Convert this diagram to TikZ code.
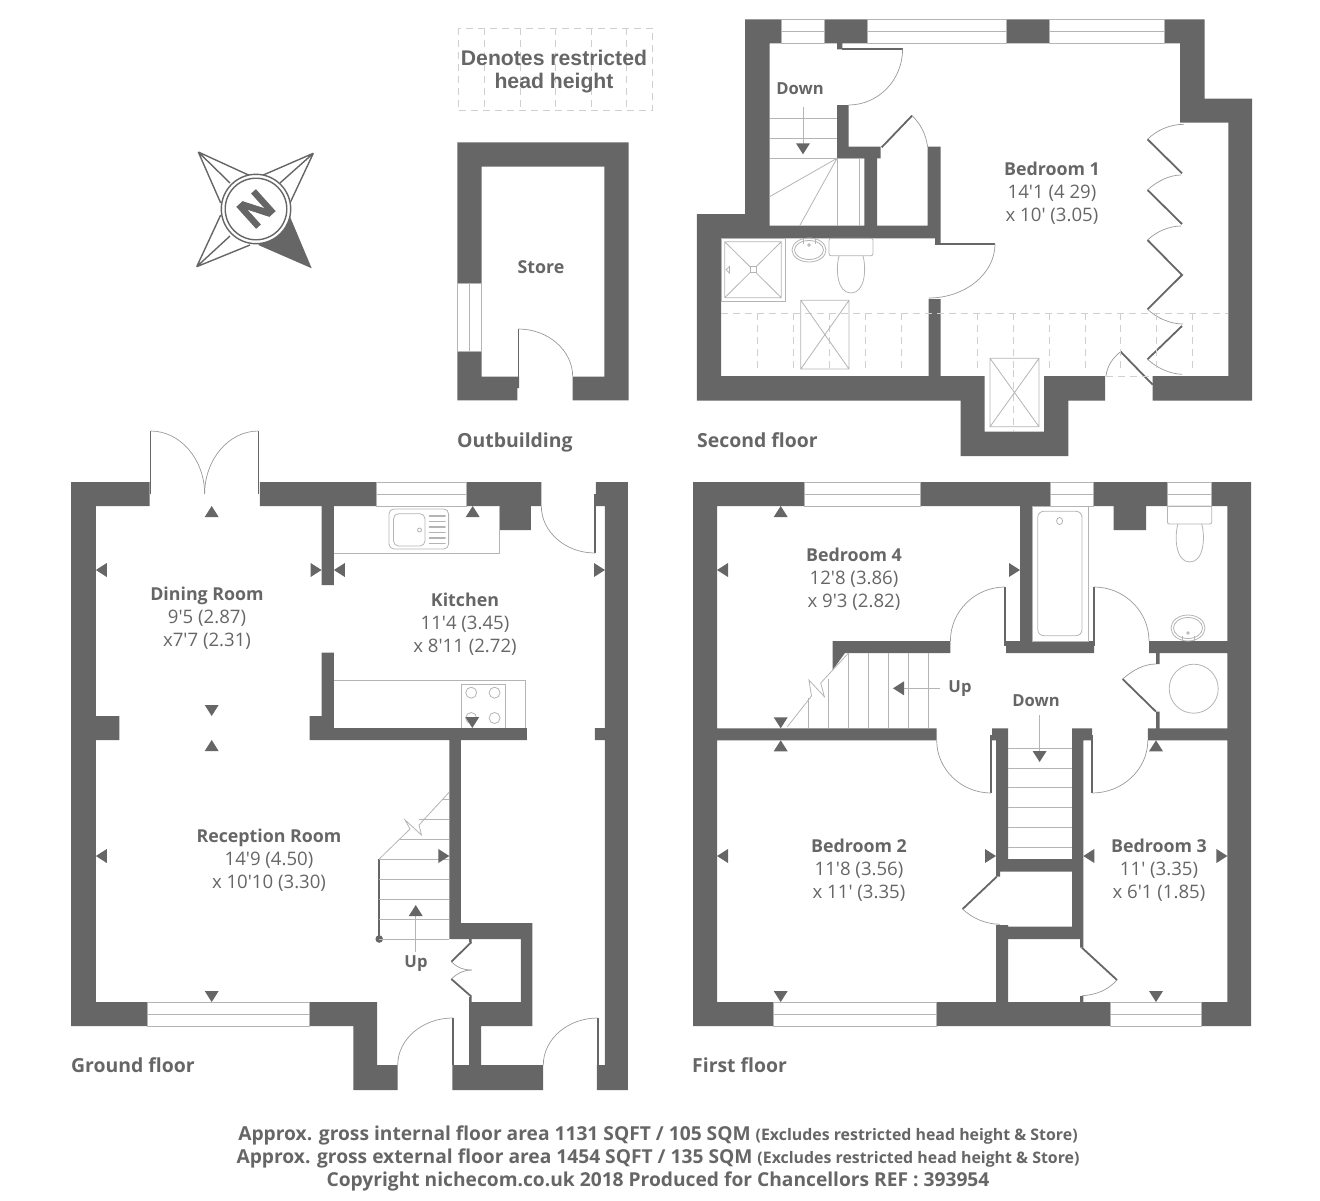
\documentclass[tikz,border=0pt]{standalone}
\usepackage{fontspec}
\newfontfamily\planfont{Open Sans}
\newfontfamily\northfont[BoldFeatures={FakeBold=2.5}]{Open Sans}
\newfontfamily\legendfont{Liberation Sans}
\definecolor{wallgrey}{HTML}{666666}
\definecolor{linegrey}{HTML}{B4B4B4}
\definecolor{swinggrey}{HTML}{999999}
\definecolor{dashgrey}{HTML}{CFCFCF}
\tikzset{
    wall/.style={fill=wallgrey},
    leaf/.style={draw=wallgrey,line width=1.8pt},
    swing/.style={draw=swinggrey,line width=0.7pt},
    fixture/.style={draw=linegrey,line width=0.8pt},
    tread/.style={draw=linegrey,line width=0.8pt},
    headline/.style={draw=dashgrey,line width=0.9pt,dash pattern=on 7pt off 5pt},
    roomlabel/.style={text=wallgrey,align=center,inner sep=0pt,font=\planfont\fontsize{18.6}{23}\selectfont},
    floorlabel/.style={text=wallgrey,anchor=base west,inner sep=0pt,font=\planfont\bfseries\fontsize{19.4}{22}\selectfont},
    steplabel/.style={text=wallgrey,inner sep=0pt,font=\planfont\bfseries\fontsize{16.6}{18}\selectfont},
    footlabel/.style={text=wallgrey,inner sep=0pt,font=\planfont\bfseries\fontsize{19.2}{22}\selectfont},
}
\newcommand{\roomname}[1]{{\bfseries\fontsize{17.8}{23}\selectfont #1}}
\newcommand{\footnotepart}[1]{{\fontsize{15.9}{22}\selectfont #1}}
\newcommand{\tipup}[2]{\fill[wall] (#1,#2) -- ({#1+7},{#2+11}) -- ({#1-7},{#2+11}) -- cycle;}
\newcommand{\tipdown}[2]{\fill[wall] (#1,#2) -- ({#1+7},{#2-11}) -- ({#1-7},{#2-11}) -- cycle;}
\newcommand{\tipleft}[2]{\fill[wall] (#1,#2) -- ({#1+11},{#2+7}) -- ({#1+11},{#2-7}) -- cycle;}
\newcommand{\tipright}[2]{\fill[wall] (#1,#2) -- ({#1-11},{#2+7}) -- ({#1-11},{#2-7}) -- cycle;}
\newcommand{\swingarc}[4]{\draw[swing] (#1,#2) .. controls ({#1+0.55*(#3-#1)},#2) and (#3,{#2+0.45*(#4-#2)}) .. (#3,#4);}
\newcommand{\winh}[4]{\draw[fixture] (#1,#3) rectangle (#2,#4) (#1,{(#3+#4)/2}) -- (#2,{(#3+#4)/2});}
\newcommand{\bowl}[4]{\draw[fixture] ({#1-0.85*#3},#2) .. controls ({#1-1.12*#3},{#2+0.35*(#4-#2)}) and ({#1-#3},#4) .. (#1,#4) .. controls ({#1+#3},#4) and ({#1+1.12*#3},{#2+0.35*(#4-#2)}) .. ({#1+0.85*#3},#2);}
\begin{document}
\begin{tikzpicture}[x=1pt,y=-1pt]
    \useasboundingbox (0,0) rectangle (1320,1200);

    \begin{scope}[xshift=0.405pt,xscale=0.9943]
    \fill[wall] (71,482) rectangle (150,506) (71,482) rectangle (96,1026) (71,1002) rectangle (148,1026)
        (311,1002) rectangle (379,1026) (355,1002) rectangle (379,1090) (355,1065) rectangle (399.6,1090)
        (261,482) rectangle (378,506) (469,482) rectangle (544,506) (501.5,506) rectangle (533.5,530)
        (608,482) rectangle (631,1090) (599,482) rectangle (608,494) (598,494) rectangle (608,506) (598,728) rectangle (608,740)
        (600,1065) rectangle (608,1090) (96,716) rectangle (119.6,740)
        (323,506) rectangle (335.4,585) (323,652.7) rectangle (335.4,728) (311,716) rectangle (335.4,740)
        (311,728) rectangle (529.6,740) (451.5,740) rectangle (463,938) (451.5,923) rectangle (535,939)
        (523.5,923) rectangle (535,1026) (471.5,1002) rectangle (535,1026) (471.5,1002) rectangle (483.5,1065)
        (454.6,1065) rectangle (545.8,1090) (471.5,939) rectangle (474,942) (471.5,997) rectangle (474,1002);
    \winh{378}{469}{482}{506}
    \winh{148}{311}{1002}{1026}
    \draw[leaf] (151,431) -- (151,494);
    \draw[leaf] (259.5,431) -- (259.5,494);
    \swingarc{151}{431}{205.4}{494}
    \swingarc{259.5}{431}{205.4}{494}
    \draw[leaf] (598,494) -- (598,553);
    \swingarc{598}{553}{544}{506}
    \draw[leaf] (455,1018) -- (455,1065);
    \swingarc{455}{1018}{399.6}{1065}
    \draw[leaf] (600.7,1018) -- (600.7,1077);
    \swingarc{600.7}{1018}{546}{1065}
    \draw[leaf] (473.8,942) -- (453.5,961.7);
    \draw[leaf] (453.5,979) -- (473.8,996.7);
    \draw[swing] (453.5,961.7) .. controls (460,968) and (466,970) .. (474,970);
    \draw[swing] (453.5,979) .. controls (460,973) and (466,970) .. (474,970);

    \draw[fixture] (335.4,553) -- (501.5,553) -- (501.5,506);
    \draw[fixture,rounded corners=5pt] (390.8,509) rectangle (450.8,549);
    \draw[fixture,rounded corners=5pt] (395.4,513.7) rectangle (427,546);
    \draw[fixture] (421.5,530) circle [radius=2pt];
    \foreach \slat in {516,521.5,527,532.3,538,543.3}
        \draw[fixture,line width=1.6pt,line cap=round] (431.5,\slat) -- (447.2,\slat);
    \draw[fixture] (335.4,680.7) -- (527.7,680.7) -- (527.7,728);
    \draw[fixture] (463.5,728) |- (508,684.3) -- (508,728);
    \foreach \hobx in {473.5,497}
        \foreach \hoby in {692.7,718}
            \draw[fixture] (\hobx,\hoby) circle [radius=5.5pt];

    \draw[wallgrey,line width=2pt] (381,859) -- (381,939);
    \fill[wall] (381,939) circle [radius=3.8pt];
    \foreach \stepy in {859,879,899,919,939}
        \draw[tread] (381,\stepy) -- (451.5,\stepy);
    \draw[tread] (402,839) -- (451.5,839) (421,819) -- (451.5,819) (444,799) -- (451.5,799);
    \draw[tread] (381,859) -- (412,829) -- (407,820) -- (423.5,835) -- (421,825) -- (451.5,792);
    \draw[tread] (417.7,952) -- (417.7,912);
    \tipup{417.7}{905}

    \tipup{212.5}{506}
    \tipup{475}{506}
    \tipleft{96}{570}
    \tipright{323}{570}
    \tipleft{335.4}{570}
    \tipright{608}{570}
    \tipdown{212.5}{716}
    \tipdown{474.6}{728}
    \tipup{212.5}{740}
    \tipleft{96}{856}
    \tipright{451.5}{856}
    \tipdown{212.5}{1002}
    \end{scope}
    \node[steplabel] (upground) at (416,963.5) {Up};

    \fill[wall] (693,482) rectangle (804.8,506) (693,482) rectangle (717,1026) (693,1002) rectangle (773,1026)
        (920.4,482) rectangle (1050,506) (1093.7,482) rectangle (1167.4,506) (1211.8,482) rectangle (1251,506)
        (1227.4,482) rectangle (1251,1026) (1113.7,506) rectangle (1146,530)
        (1020,506) rectangle (1032,653) (1006,641) rectangle (1094,653)
        (832.6,641) rectangle (950.4,653) (832.6,653) -- (845,653) -- (832.6,670) -- cycle
        (1149,641) rectangle (1227.4,653) (1156,653) rectangle (1159.6,664) (1156,711.7) rectangle (1159.6,728)
        (717,728.3) rectangle (936.7,740.3) (1147.8,728.3) rectangle (1227.4,740.3)
        (992,728.3) rectangle (1008,740.3) (1072,728.3) rectangle (1092,740.3)
        (996,728.3) rectangle (1008,859) (1072,728.3) rectangle (1083.3,939) (996,859) rectangle (1083.3,871.7)
        (996,871.7) rectangle (1000,876.7) (996,925) rectangle (1008,1002) (996,926.7) rectangle (1083.3,939)
        (1080,939) rectangle (1083.3,947.7) (1080,996) rectangle (1083.3,1002)
        (936,1002) rectangle (1110,1026) (1201,1002) rectangle (1251,1026);
    \winh{804.8}{920.4}{482}{506}
    \winh{1050}{1093.7}{482}{506}
    \winh{1167.4}{1211.8}{482}{506}
    \winh{773}{936}{1002}{1026}
    \winh{1110}{1201}{1002}{1026}
    \draw[leaf] (1005,587) -- (1005,646);
    \draw[leaf] (1094,587) -- (1094,646);
    \swingarc{1005}{587}{950.4}{641}
    \swingarc{1094}{587}{1149}{641}
    \draw[leaf] (991.2,735) -- (991.2,793);
    \draw[leaf] (1092,735) -- (1092,793);
    \swingarc{991.2}{793}{936.7}{740.3}
    \swingarc{1092}{793}{1147.8}{740.3}
    \draw[leaf] (1122.6,679) -- (1156,711.7);
    \draw[swing] (1122.6,679) .. controls (1133,670) and (1144,664) .. (1156,664);
    \draw[leaf] (962.6,909) -- (996.7,876.7);
    \draw[swing] (962.6,909) .. controls (972,918) and (985,924) .. (1000,924.3);
    \draw[leaf] (1081.9,947.7) -- (1117,980);
    \draw[swing] (1117,980) .. controls (1108,990) and (1096,995) .. (1082,995.7);

    \draw[fixture] (1032,506) rectangle (1088,641);
    \draw[fixture,rounded corners=6pt] (1037.8,511.3) rectangle (1082,635.7);
    \draw[fixture] (1059.6,521) ellipse [x radius=3pt,y radius=3.5pt];
    \draw[fixture,rounded corners=2pt] (1167.4,506) rectangle (1211.8,524);
    \bowl{1189.8}{524}{14}{562}
    \draw[fixture] (1188,628) ellipse [x radius=17pt,y radius=13pt];
    \draw[fixture] (1188,628) ellipse [x radius=14.5pt,y radius=10.5pt];
    \draw[fixture] (1182,641) -- (1182,636) (1194,641) -- (1194,636);
    \draw[fixture] (1188,633) circle [radius=1.3pt];
    \draw[fixture] (1193.7,688.7) circle [radius=24.5pt];

    \foreach \stepy in {748.3,768,787.7,807.7,827.3,847.3}
        \draw[tread] (1008,\stepy) -- (1072,\stepy);
    \draw[tread] (1039.6,715) -- (1039.6,755);
    \tipdown{1039.6}{762}
    \node[steplabel] (downfirst) at (1036,700.5) {Down};
    \foreach \stepx in {848.5,868.5,888.5,908.5,928}
        \draw[tread] (\stepx,653) -- (\stepx,728.3);
    \draw[tread] (828.5,679) -- (828.5,728.3) (808.5,698) -- (808.5,728.3);
    \draw[tread] (787.4,726.7) -- (811.5,696) -- (808.9,680) -- (824.4,696.7) -- (820.7,683) -- (848.5,653);
    \draw[tread] (940.4,688.3) -- (900,688.3);
    \tipleft{893}{688.3}
    \node[steplabel] (upfirst) at (960,688.5) {Up};

    \tipup{780.7}{506}
    \tipleft{717}{570}
    \tipright{1020}{570}
    \tipdown{780.7}{728.3}
    \tipup{780.7}{740.3}
    \tipup{1156}{740.3}
    \tipleft{717}{856}
    \tipright{996}{856}
    \tipleft{1083.3}{856}
    \tipright{1227.4}{856}
    \tipdown{780.7}{1002}
    \tipdown{1156}{1002}

    \fill[wall] (745,19.3) rectangle (781,43.3) (745,19.3) rectangle (769.6,226) (824.7,19.3) rectangle (867,43.3)
        (1006.7,19.3) rectangle (1049,43.3) (1164,19.3) rectangle (1204.5,43.3) (1180,19.3) rectangle (1204.5,122.7)
        (1180,98.7) rectangle (1252,122.7) (1228.4,98.7) rectangle (1252,400.7)
        (696.8,214) rectangle (721,400.7) (696.8,214) rectangle (769.6,238.3) (721,225.7) rectangle (940.5,238.3)
        (927.6,146.7) rectangle (940.5,238.3) (935,238) rectangle (940.5,244) (864.4,146.7) rectangle (877,226)
        (837,146.7) rectangle (880.6,158.3) (837,105) rectangle (848.6,158.3) (837,43) rectangle (842.3,49.3)
        (928.7,299) rectangle (940.5,376) (696.8,376) rectangle (984.6,400.7)
        (960.7,376) rectangle (984.6,456) (960.7,431.7) rectangle (1068.4,456) (1044,376) rectangle (1068.4,456)
        (1044,376) rectangle (1105,400.7) (1152.7,376) rectangle (1252,400.7);
    \winh{781}{824.7}{19.3}{43.3}
    \winh{867}{1006.7}{19.3}{43.3}
    \winh{1049}{1164}{19.3}{43.3}
    \draw[leaf] (842,49.3) -- (902.6,49.3);
    \swingarc{848.6}{105}{902.6}{49.3}
    \draw[leaf] (881.7,147.3) -- (912,115.7);
    \draw[swing] (912,115.7) .. controls (921,124) and (926,135) .. (927.6,146.7);
    \draw[leaf] (935,244) -- (995,244);
    \swingarc{928.7}{298}{995}{244}
    \draw[leaf] (1147.5,139.3) -- (1182,173.3);
    \draw[swing] (1147.5,139.3) .. controls (1157,130) and (1170,124.3) .. (1184,124.3);
    \draw[leaf] (1147.5,190) -- (1182,224);
    \draw[swing] (1147.5,190) .. controls (1157,181) and (1170,175) .. (1181,175);
    \draw[leaf] (1147.5,240) -- (1182,275) -- (1147.5,309.3);
    \draw[swing] (1147.5,240) .. controls (1157,231) and (1170,226) .. (1181,226);
    \draw[swing] (1147.5,309.3) .. controls (1157,318) and (1170,324) .. (1183,324);
    \draw[leaf] (1182,326) -- (1147.5,359.3);
    \draw[swing] (1147.5,359.3) .. controls (1157,368) and (1170,374) .. (1182,374.3);
    \draw[leaf] (1120.7,351.7) -- (1152.7,384.7);
    \draw[swing] (1120.7,351.7) .. controls (1112,358) and (1107,367) .. (1106,376);
    \draw[headline] (1106,376) -- (1152.7,376);

    \foreach \stepy in {118.3,138.3,158.3}
        \draw[tread] (769.6,\stepy) -- (837,\stepy);
    \draw[tread] (837,158.3) -- (864.4,158.3) (837,158.3) -- (837,225.7) (859,158.3) -- (859,225.7);
    \draw[tread] (837,158.3) -- (769.6,196.7) (837,158.3) -- (799.7,225.7);
    \draw[tread] (803,106.7) -- (803,147);
    \tipdown{803}{154.3}
    \node[steplabel] (downsecond) at (800,88.5) {Down};

    \draw[headline] (721,313.3) -- (1228.4,313.3);
    \foreach \dashx in {757,793,829,865,901,977,1013,1049,1085,1120.7,1156.7,1192.7}
        \draw[headline] (\dashx,313.3) -- (\dashx,370);
    \draw[headline] (1013,370) -- (1013,431);
    \draw[fixture] (800.8,300.3) rectangle (849,369) (800.8,300.3) -- (849,369) (849,300.3) -- (800.8,369);
    \draw[fixture] (990,358.3) rectangle (1039,426.7) (990,358.3) -- (1039,426.7) (1039,358.3) -- (990,426.7);
    \draw[fixture] (721,238.3) rectangle (785,301.3);
    \draw[fixture] (724.7,241.7) rectangle (781.3,297.7) (724.7,241.7) -- (781.3,297.7) (781.3,241.7) -- (724.7,297.7);
    \fill[white] (750,266.7) rectangle (756,272.7);
    \draw[fixture] (750,266.7) rectangle (756,272.7);
    \draw[fixture] (726,269.7) -- (729.5,266.5) -- (729.5,273) -- cycle;
    \draw[fixture] (809,250) ellipse [x radius=17pt,y radius=12pt];
    \draw[fixture] (809,250) ellipse [x radius=14.5pt,y radius=9.5pt];
    \draw[fixture] (803,238.3) -- (803,243.5) (815,238.3) -- (815,243.5);
    \draw[fixture] (809,245) circle [radius=1.3pt];
    \draw[fixture,rounded corners=2pt] (829,238.3) rectangle (873,255.7);
    \bowl{851}{255.7}{14}{293}

    \draw[headline] (458,28) rectangle (652.7,110.7);
    \foreach \dashx in {484,520,555.7,591,626}
        \draw[headline] (\dashx,28) -- (\dashx,110.7);
    \node[text=wallgrey,align=center,inner sep=0pt,font=\legendfont\bfseries\fontsize{21.2}{23}\selectfont] (legendtext) at (554,71.5) {Denotes restricted\\head height};

    \fill[wall] (457.3,142.3) rectangle (628.7,166.7) (457.3,142.3) rectangle (481.7,283.3) (604.3,142.3) rectangle (628.7,400.3)
        (457.3,351) rectangle (481.7,400.3) (457.3,376.7) rectangle (517.3,400.3) (572.7,376.7) rectangle (628.7,400.3)
        (517,376.7) rectangle (519.2,388);
    \draw[fixture] (457.3,283.3) rectangle (481.7,351) (469.3,283.3) -- (469.3,351);
    \draw[leaf,line width=1.2pt] (518.3,329) -- (518.3,388);
    \swingarc{518.3}{329}{572.7}{376.7}

    \fill[wall] (311.7,268.3) -- (290,216.7) -- (258.3,245) -- cycle;
    \draw[wallgrey,line width=1.4pt,line join=round] (198.3,152) -- (250,175.7) (198.3,152) -- (220.7,203) (198.3,152) -- (230,183)
        (313.3,153.3) -- (261.7,175.7) (313.3,153.3) -- (290,203) (313.3,153.3) -- (280,183)
        (196.7,266.7) -- (220.7,215) (196.7,266.7) -- (250,245) (196.7,266.7) -- (230,236);
    \draw[wallgrey,line width=1.4pt,fill=white] (256,209) circle [radius=34.7pt];
    \draw[wallgrey,line width=1.4pt] (256,209) circle [radius=30.8pt];
    \node[text=wallgrey,inner sep=0pt,rotate=42,font=\northfont\bfseries\fontsize{40}{40}\selectfont] (north) at (256,209) {N};

    \node[roomlabel] (diningroom) at (207,618) {\roomname{Dining Room}\\9'5 (2.87)\\x7'7 (2.31)};
    \node[roomlabel] (kitchen) at (465,624) {\roomname{Kitchen}\\11'4 (3.45)\\x 8'11 (2.72)};
    \node[roomlabel] (receptionroom) at (269,860) {\roomname{Reception Room}\\14'9 (4.50)\\x 10'10 (3.30)};
    \node[roomlabel] (bedroomfour) at (854,579) {\roomname{Bedroom 4}\\12'8 (3.86)\\x 9'3 (2.82)};
    \node[roomlabel] (bedroomtwo) at (859,870) {\roomname{Bedroom 2}\\11'8 (3.56)\\x 11' (3.35)};
    \node[roomlabel] (bedroomthree) at (1159,870) {\roomname{Bedroom 3}\\11' (3.35)\\x 6'1 (1.85)};
    \node[roomlabel] (bedroomone) at (1052,193) {\roomname{Bedroom 1}\\14'1 (4 29)\\x 10' (3.05)};
    \node[roomlabel] (store) at (541,267.5) {\roomname{Store}};

    \node[floorlabel] (outbuilding) at (457,447) {Outbuilding};
    \node[floorlabel] (secondfloor) at (697,447) {Second floor};
    \node[floorlabel] (groundfloor) at (71,1072) {Ground floor};
    \node[floorlabel] (firstfloor) at (692,1072) {First floor};

    \node[footlabel] (internalarea) at (658,1135.5) {Approx. gross internal floor area 1131 SQFT / 105 SQM \footnotepart{(Excludes restricted head height \& Store)}};
    \node[footlabel] (externalarea) at (658,1158.5) {Approx. gross external floor area 1454 SQFT / 135 SQM \footnotepart{(Excludes restricted head height \& Store)}};
    \node[footlabel] (copyrightline) at (658,1181.5) {Copyright nichecom.co.uk 2018 Produced for Chancellors REF : 393954};
\end{tikzpicture}
\end{document}
